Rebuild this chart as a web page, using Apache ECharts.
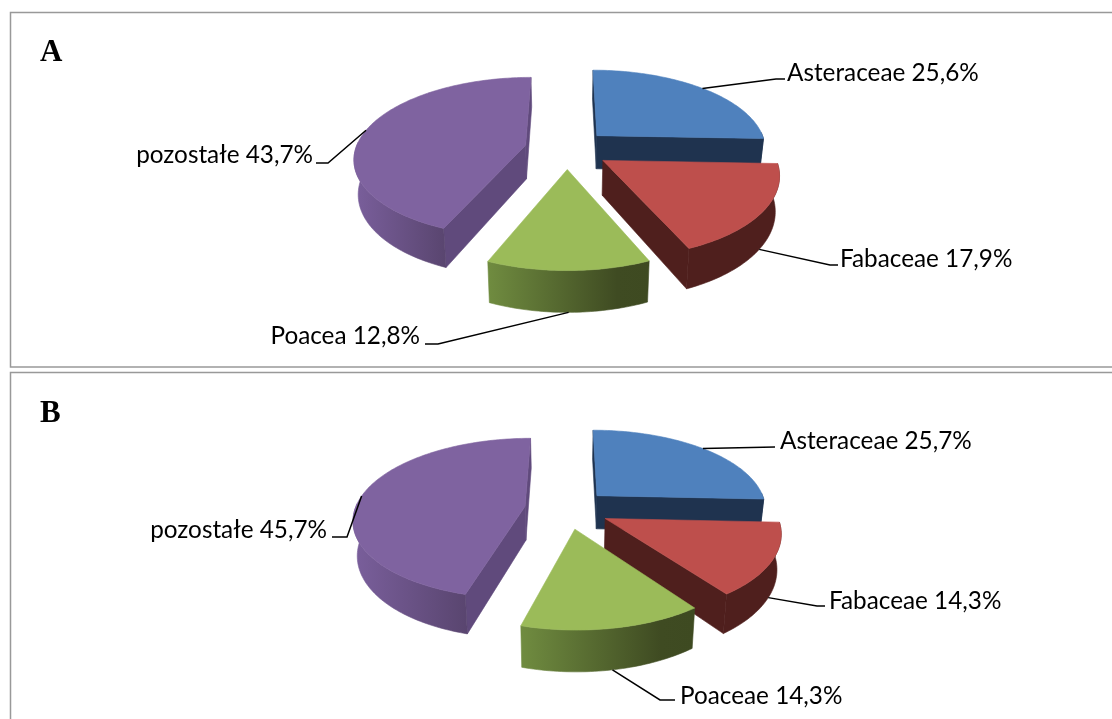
<!DOCTYPE html>
<html><head><meta charset="utf-8">
<style>html,body{margin:0;padding:0;background:#fff}#c{width:1112px;height:719px}</style>
<script src="https://cdn.jsdelivr.net/npm/echarts@6/dist/echarts.min.js"></script>
</head><body><div id="c"></div>
<script>
// ---- data ----
const categoriesA = ['Asteraceae', 'Fabaceae', 'Poacea', 'pozostałe'];
const valuesA = [25.6, 17.9, 12.8, 43.7];
const categoriesB = ['Asteraceae', 'Fabaceae', 'Poaceae', 'pozostałe'];
const valuesB = [25.7, 14.3, 14.3, 45.7];

// ---- style / layout ----
const topColors = ['#4F81BD', '#BE4F4C', '#9BBB59', '#7F63A0'];
const radialColors = ['#1F334F', '#4F1F1D', '#3E4A21', '#604A7C'];
const rimStops = [
  [[0, '#1F334F'], [1, '#1F334F']],
  [[0, '#4F1F1D'], [1, '#4F1F1D']],
  [[0, '#708C40'], [0.8, '#3F4B22'], [1, '#3E4A21']],
  [[0, '#7A5F9C'], [1, '#59456F']]
];
const view = { cx: 567, rx: 170, ry: 79, persp: 0.15, depth: 34, explode: 0.25, shrink: 0.98 };
const panels = [
  { cy: 149, cats: categoriesA, vals: valuesA,
    labels: [
      { x: 787, y: 73, align: 'left', elbow: [776, 79], end: [785, 79], face: 'top' },
      { x: 840, y: 259, align: 'left', elbow: [830, 265], end: [838, 265], face: 'bottom' },
      { x: 420, y: 336, align: 'right', elbow: [438, 344], end: [425, 344], face: 'bottom' },
      { x: 313, y: 155, align: 'right', elbow: [328, 163], end: [316, 163], face: 'top' }
    ] },
  { cy: 509, cats: categoriesB, vals: valuesB,
    labels: [
      { x: 780, y: 441, align: 'left', elbow: [775, 447], end: [775, 447], face: 'top' },
      { x: 829, y: 601, align: 'left', elbow: [817, 606], end: [825, 606], face: 'bottom' },
      { x: 680, y: 696, align: 'left', elbow: [660, 700], end: [675, 700], face: 'bottom' },
      { x: 327, y: 530, align: 'right', elbow: [347, 537], end: [332, 537], face: 'top' }
    ] }
];
const frameColor = '#999999';
const labelFont = { fontFamily: 'Lato', fontSize: 24.3, fill: '#000' };

function project(p, X, Y, lift) {
  const w = 1 + view.persp * Y;
  const x = view.rx * X / w, y = p.cy - view.ry * Y / w;
  return lift ? [view.cx + x * view.shrink, y + view.depth / w] : [view.cx + x, y];
}

function renderSlice(panel, params) {
  const i = params.dataIndex, vals = panel.vals;
  const total = vals.reduce((a, b) => a + b, 0);
  const toAngle = v => v / total * Math.PI * 2;
  const sweepOf = k => vals.slice(0, k).reduce((a, b) => a + toAngle(b), 0);
  const a0 = sweepOf(i), a1 = sweepOf(i + 1), mid = (a0 + a1) / 2;
  const ex = view.explode * Math.sin(mid), ey = view.explode * Math.cos(mid);
  const apexY = k => { const m = (sweepOf(k) + sweepOf(k + 1)) / 2; return project(panel, view.explode * Math.sin(m), view.explode * Math.cos(m))[1]; };
  const rank = vals.map((_, k) => apexY(k)).sort((a, b) => a - b).indexOf(apexY(i));
  const rimPt = (a, lift) => project(panel, ex + Math.sin(a), ey + Math.cos(a), lift);
  const n = Math.max(8, Math.ceil((a1 - a0) / 0.02));
  const angles = [];
  for (let s = 0; s <= n; s++) angles.push(a0 + (a1 - a0) * s / n);
  const apexT = project(panel, ex, ey), apexB = project(panel, ex, ey, true);
  const rimT = angles.map(a => rimPt(a));
  const front = angles.filter(a => Math.cos(a) < 0.05);
  const z = rank * 10 + 10;
  const poly = (points, fill, z2) => ({
    type: 'polygon', z2, shape: { points },
    style: { fill, stroke: fill, lineWidth: 0.6, lineJoin: 'round' }
  });
  const kids = [];
  if (Math.sin(a0) <= 0.001) kids.push(poly([apexT, rimPt(a0), rimPt(a0, true), apexB], radialColors[i], z));
  if (Math.sin(a1) >= -0.001) kids.push(poly([apexT, rimPt(a1), rimPt(a1, true), apexB], radialColors[i], z + 1));
  if (front.length > 1) {
    kids.push(poly(front.map(a => rimPt(a)).concat(front.slice().reverse().map(a => rimPt(a, true))),
      new echarts.graphic.LinearGradient(0, 0, 1, 0, rimStops[i].map(s => ({ offset: s[0], color: s[1] }))),
      z + 2));
  }
  kids.push(poly([apexT].concat(rimT), topColors[i], z + 3));
  const lab = panel.labels[i];
  const anchor = rimPt(mid, lab.face === 'bottom');
  kids.push({
    type: 'polyline', z2: lab.face === 'top' ? z + 4 : 60,
    shape: { points: [anchor, lab.elbow, lab.end] },
    style: { fill: 'none', stroke: '#000', lineWidth: 1.5 }
  });
  kids.push({
    type: 'text', z2: 100, x: lab.x, y: lab.y,
    style: Object.assign({}, labelFont, {
      text: panel.cats[i] + ' ' + vals[i].toFixed(1).replace('.', ',') + '%',
      textAlign: lab.align, textVerticalAlign: 'middle'
    })
  });
  return { type: 'group', children: kids };
}

const frame = (x, y, w, h) => ({ type: 'rect', silent: true,
  shape: { x, y, width: w, height: h },
  style: { fill: 'none', stroke: frameColor, lineWidth: 1.5 } });
const letter = (t, x, y) => ({ type: 'text', x, y,
  style: { text: t, fontFamily: 'Liberation Serif', fontWeight: 'bold', fontSize: 31, fill: '#000', textVerticalAlign: 'middle' } });

const chart = echarts.init(document.getElementById('c'), null, { renderer: 'canvas' });
chart.setOption({
  animation: false,
  backgroundColor: '#fff',
  graphic: [frame(10.5, 12.5, 1140, 354.5), frame(10.5, 372.5, 1140, 400),
            letter('A', 40, 53), letter('B', 40, 414)],
  series: panels.map(p => ({
    type: 'custom', coordinateSystem: 'none',
    data: p.vals.map((v, i) => ({ name: p.cats[i], value: v })),
    renderItem: params => renderSlice(p, params)
  }))
});
</script></body></html>
